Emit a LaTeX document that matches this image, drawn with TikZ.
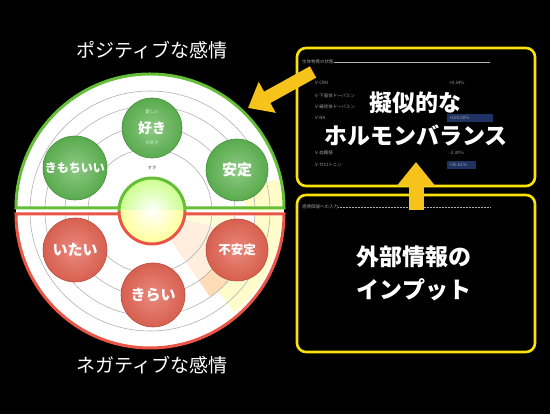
\documentclass[tikz,border=0pt]{standalone}
\usepackage{fontspec}
\setmainfont{Noto Sans CJK JP}
\usetikzlibrary{arrows.meta}
\definecolor{ybox}{RGB}{250,225,10}
\definecolor{yarrow}{RGB}{245,195,25}
\definecolor{posg}{RGB}{100,190,55}
\definecolor{negr}{RGB}{235,85,70}
\definecolor{ballg}{RGB}{85,175,72}
\definecolor{ballr}{RGB}{225,92,75}
\definecolor{hlblue}{RGB}{30,50,100}
\tikzset{
  ring/.style={draw=gray!60, line width=0.6pt},
  gball/.style={circle, inner sep=0pt, minimum size=#1, draw=ballg!80!black, line width=0.6pt,
     inner color=ballg!70!white, outer color=ballg!95!black, text=white, opacity=0.95, text opacity=1,
     font=\bfseries\fontsize{14}{16}\selectfont},
  rball/.style={circle, inner sep=0pt, minimum size=#1, draw=ballr!80!black, line width=0.6pt,
     inner color=ballr!75!white, outer color=ballr!95!black, text=white, opacity=0.95, text opacity=1,
     font=\bfseries\fontsize{14}{16}\selectfont},
  ybox/.style={draw=ybox, line width=2.6pt, rounded corners=9pt, minimum width=238pt, inner sep=0pt},
  bigtxt/.style={text=white, font=\bfseries\fontsize{23}{26}\selectfont, inner sep=0pt},
  title/.style={text=white, font=\fontsize{19}{22}\selectfont, inner sep=0pt},
  tiny/.style={text=gray!75, font=\fontsize{4.5}{5}\selectfont, inner sep=0pt, anchor=west},
  ringlbl/.style={text=gray!70!black, font=\fontsize{4.5}{5}\selectfont, inner sep=0pt},
  yarr/.style={draw=yarrow, line width=13pt, -{Triangle[length=22pt,width=34pt]}, color=yarrow},
}
\begin{document}
\begin{tikzpicture}[x=1pt,y=1pt]
\fill[black] (0,0) rectangle (550,414);
\useasboundingbox (0,0) rectangle (550,414);

% ---- big circle halves
\fill[white] (16,206) arc[start angle=180,end angle=0,radius=134] -- cycle;
\fill[white] (16,200) arc[start angle=180,end angle=360,radius=134] -- cycle;
\fill[white] (16,206) -- (16,200) -- (284,200) -- (284,206) -- cycle;

% coloured sectors
\fill[yellow!22!white] (150,203) ++(0:95) arc[start angle=0,end angle=14,radius=95] -- ++(14:37) arc[start angle=14,end angle=0,radius=132] -- cycle;
\fill[yellow!20!white] (150,203) ++(-2:105) arc[start angle=-2,end angle=-50,radius=105] -- ++(-50:27) arc[start angle=-50,end angle=-2,radius=132] -- cycle;
\fill[yellow!15!white] (150,203) ++(-2:36) arc[start angle=-2,end angle=-14,radius=36] -- ++(-14:49) arc[start angle=-14,end angle=-2,radius=85] -- cycle;
\fill[orange!13!white] (150,203) ++(-14:36) arc[start angle=-14,end angle=-55,radius=36] -- ++(-55:69) arc[start angle=-55,end angle=-14,radius=105] -- cycle;
\fill[orange!28!white] (150,203) ++(-32:85) arc[start angle=-32,end angle=-55,radius=85] -- ++(-55:20) arc[start angle=-55,end angle=-32,radius=105] -- cycle;

% rings
\begin{scope}
\clip (16,206) arc[start angle=180,end angle=0,radius=134] -- cycle;
\foreach \r in {62,85,105,120} \draw[ring] (150,203) circle[radius=\r];
\end{scope}
\begin{scope}
\clip (16,200) arc[start angle=180,end angle=360,radius=134] -- cycle;
\foreach \r in {62,85,105,120} \draw[ring] (150,203) circle[radius=\r];
\end{scope}

% outlines
\draw[posg, line width=3pt] (16,206) arc[start angle=180,end angle=0,radius=134] -- cycle;
\draw[negr, line width=3pt] (16,200) arc[start angle=180,end angle=360,radius=134] -- cycle;

% center circle
\begin{scope}
\clip (110,203) rectangle (195,245);
\shade[inner color=white, outer color=green!45!yellow!45!white] (152,203) circle[radius=33];
\end{scope}
\begin{scope}
\clip (110,203) rectangle (195,160);
\shade[inner color=white, outer color=yellow!40!white] (152,203) circle[radius=33];
\end{scope}
\draw[posg, line width=3pt] (119,203) arc[start angle=180,end angle=0,radius=33];
\draw[negr, line width=3pt] (119,203) arc[start angle=180,end angle=360,radius=33];
\node (center) at (152,203) {};

% ring labels
\node[ringlbl] (sk) at (152,246) {すき};

% bubbles
\node[gball=60pt] (like) at (152,286) {好き};
\node[ringlbl, text=white!80!green] (l1) at (152,302) {愛しい};
\node[ringlbl, text=white!80!green] (l2) at (152,271) {大好き};
\node[gball=64pt, font=\bfseries\fontsize{12}{14}\selectfont] (kimochi) at (75,246) {きもちいい};
\node[gball=62pt, font=\bfseries\fontsize{15}{17}\selectfont] (antei) at (237,244) {安定};
\node[rball=64pt, font=\bfseries\fontsize{15}{17}\selectfont] (itai) at (75,164) {いたい};
\node[rball=64pt, font=\bfseries\fontsize{15}{17}\selectfont] (kirai) at (153,119) {きらい};
\node[rball=62pt, font=\bfseries\fontsize{12.5}{14}\selectfont] (fuantei) at (237,164) {不安定};

% titles
\node[title] (pos) at (152,364) {ポジティブな感情};
\node[title] (neg) at (152,49) {ネガティブな感情};

% boxes
\node[ybox, minimum height=138pt] (topbox) at (416,297) {};
\node[ybox, minimum height=157pt] (botbox) at (416,140.5) {};

% top box small content
\node[tiny] (cap1) at (302,352) {生体物質の状態};
\draw[gray!60, line width=0.5pt] (cap1.east) -- (490,352);
\node[tiny] (r1) at (315,331) {V-CRH};
\node[tiny] (r2) at (315,318) {V-下垂体ドーパミン};
\node[tiny] (r3) at (315,307) {V-線状体ドーパミン};
\node[tiny] (r4) at (315,296) {V-NA};
\node[tiny] (r7) at (315,261) {V-血糖値};
\node[tiny] (r8) at (315,249) {V-セロトニン};
\node[tiny] (v1) at (449,331) {+0.34\%};
\fill[hlblue] (447,292) rectangle (493,300);
\node[tiny] (v4) at (449,296) {+100.00\%};
\node[tiny] (v7) at (449,261) {-2.30\%};
\fill[hlblue] (447,245) rectangle (476,253);
\node[tiny] (v8) at (449,249) {+30.62\%};

% bottom box small content
\node[tiny] (cap2) at (302,207) {感情価値への入力};
\draw[gray!60, line width=0.5pt, densely dotted] (cap2.east) -- (490,207);

% big texts
\node[bigtxt] (t1) at (415,311) {擬似的な};
\node[bigtxt] (t2) at (416,279) {ホルモンバランス};
\node[bigtxt] (t3) at (414,157) {外部情報の};
\node[bigtxt] (t4) at (414,124) {インプット};

% arrows
\coordinate (a1s) at (313,342);
\coordinate (a1e) at (248,306);
\coordinate (a2s) at (416,204);
\coordinate (a2e) at (416,252);
\draw[yarr] (a1s) -- (a1e);
\draw[yarr, line width=15pt, -{Triangle[length=24pt,width=37pt]}] (a2s) -- (a2e);
\end{tikzpicture}
\end{document}
